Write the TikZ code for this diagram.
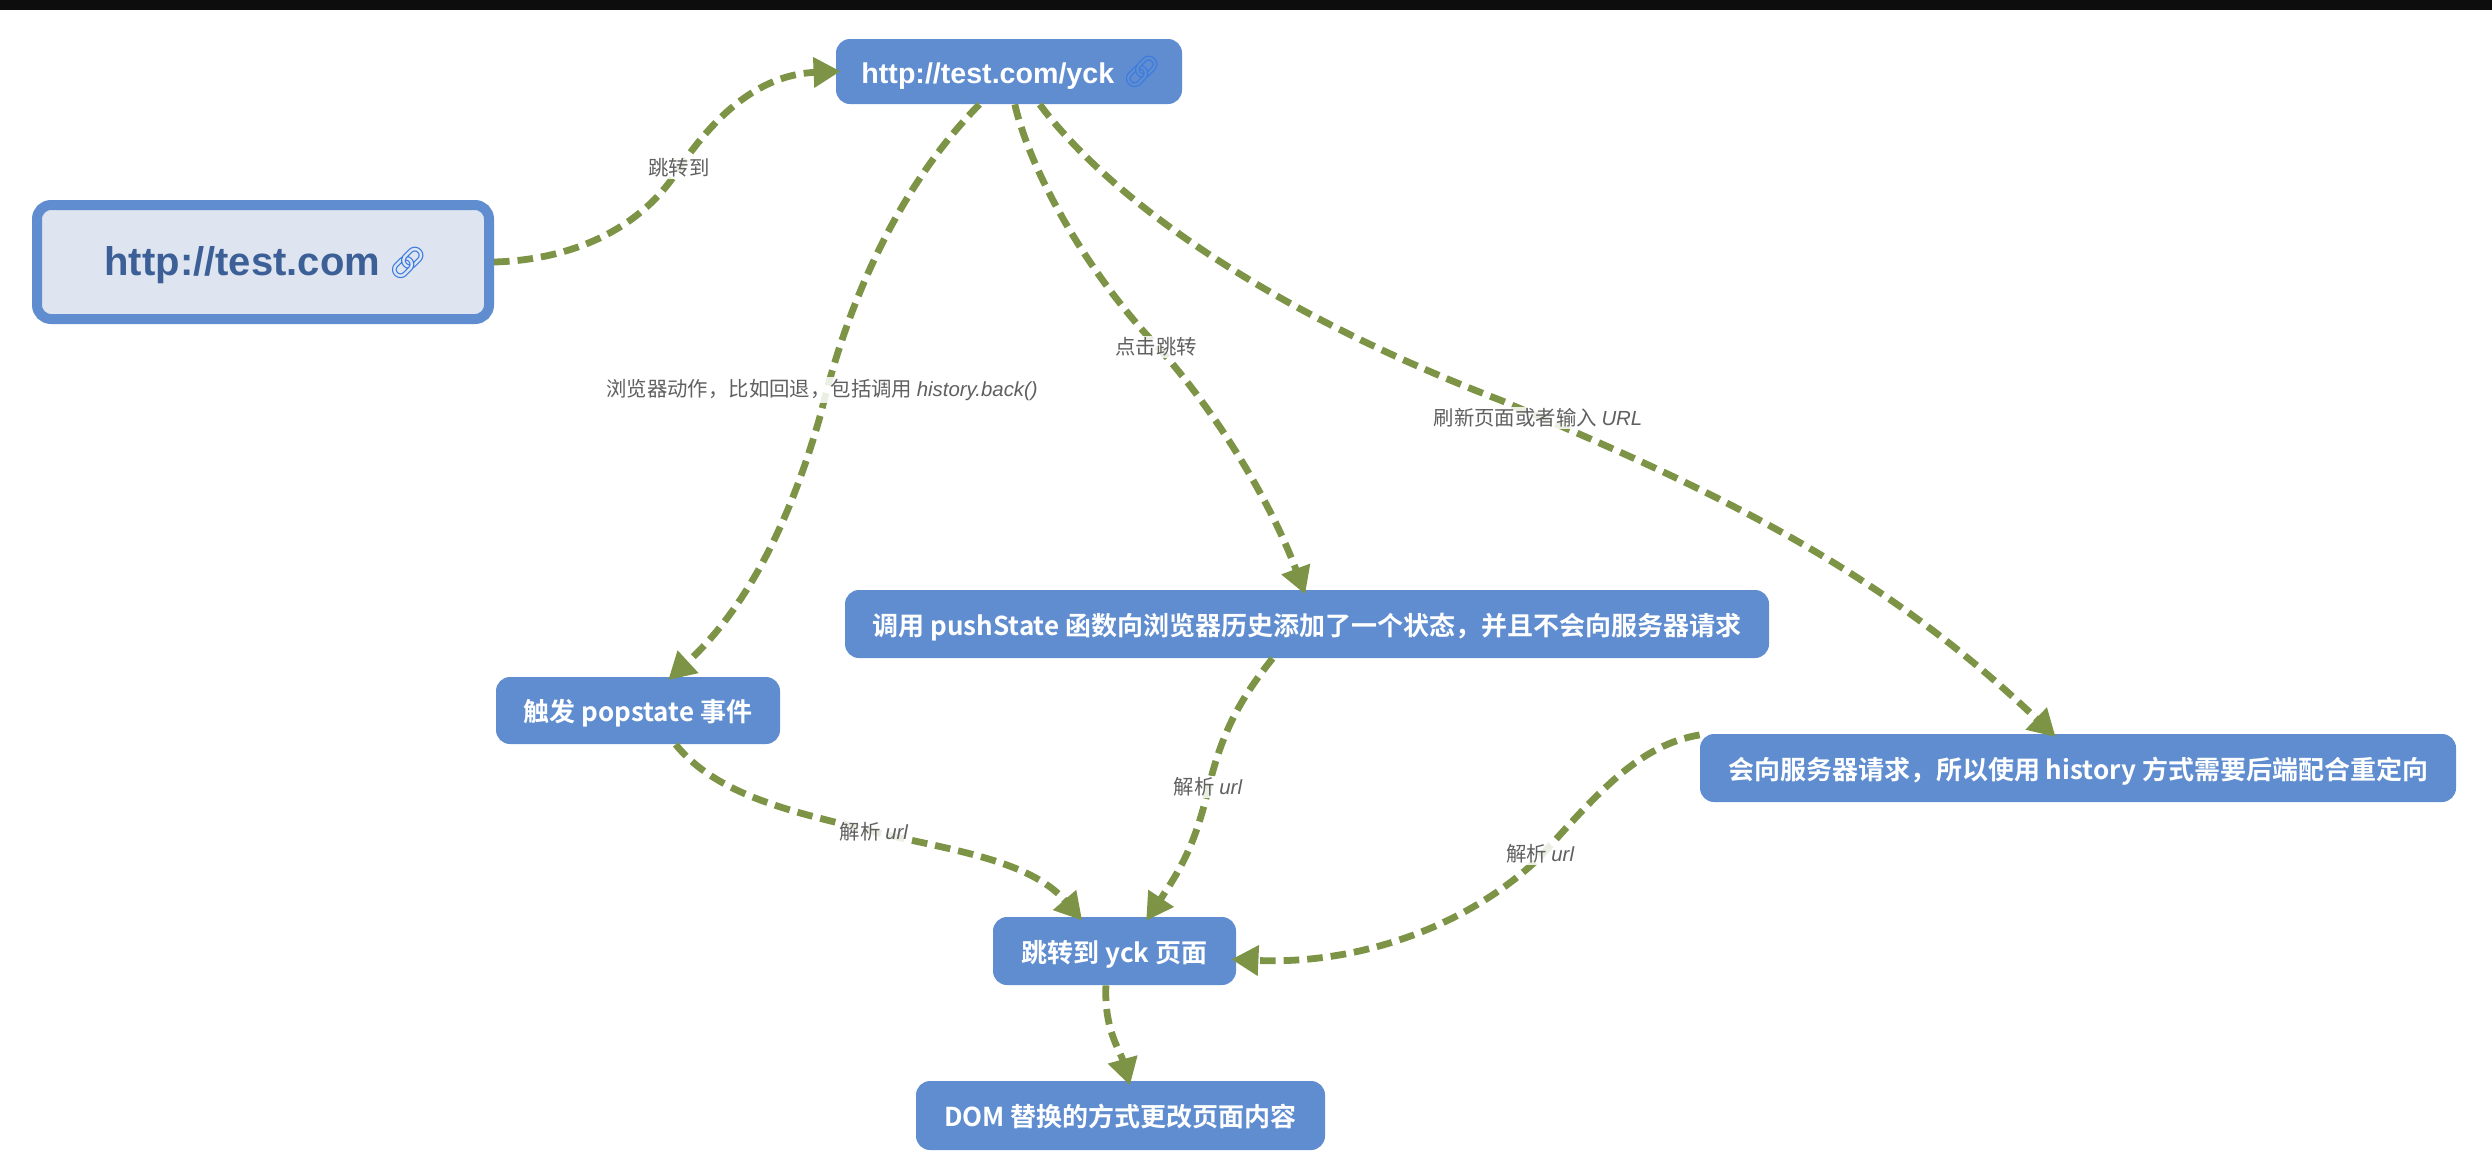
\documentclass[tikz,border=0pt]{standalone}
\usepackage{fontspec}
\setmainfont{Liberation Sans}
\newfontfamily\cjk{Noto Sans CJK SC}[BoldFont=* Bold]
\newfontfamily\emojifont{Noto Emoji}
\usetikzlibrary{arrows.meta}
\definecolor{nodeblue}{HTML}{5F8DD0}
\definecolor{rootfill}{HTML}{DEE5F0}
\definecolor{roottext}{HTML}{3B5F96}
\definecolor{edgegreen}{HTML}{7D9446}
\definecolor{labelgrey}{HTML}{606060}
\definecolor{linkblue}{HTML}{3A7BE0}
\newcommand{\linkicon}[1]{\raisebox{#1}{\fontsize{15.5}{17}\emojifont\color{linkblue}\symbol{"1F517}}}
\newcommand{\basetext}[2]{\raisebox{-#1}[0pt][0pt]{#2}}
\tikzset{
  x=0.5pt,y=-0.5pt,
  flow/.style={rectangle,rounded corners=7pt,fill=nodeblue,text=white,inner sep=0pt,font=\cjk\bfseries\fontsize{13}{15}\selectfont},
  rootnode/.style={rectangle,rounded corners=7pt,fill=rootfill,draw=nodeblue,line width=5pt,text=roottext,inner sep=0pt,minimum width=226pt,minimum height=57pt,font=\bfseries\fontsize{20}{24}\selectfont},
  conn/.style={draw=edgegreen,line width=3.4pt,dash pattern=on 7.8pt off 4pt,
    -{Triangle[length=13.5pt,width=14.5pt,fill=edgegreen]},shorten >=-2.5pt},
  elabel/.style={fill=white,fill opacity=.85,text opacity=1,text=labelgrey,inner xsep=0.5pt,inner ysep=1pt,font=\cjk\fontsize{10.2}{12}\selectfont}
}
\begin{document}
\begin{tikzpicture}
\useasboundingbox (0,0) rectangle (2492,1168);
\fill[white] (0,0) rectangle (2492,1168);
\fill[black!95] (0,0) rectangle (2492,10);
\node[rootnode] (root) at (263,262) {\basetext{6.5pt}{\hspace*{3pt}http://test.com\hspace{4pt}\linkicon{1pt}}};
\node[flow,minimum width=173pt,minimum height=32.5pt] (yck) at (1009,71.5) {\basetext{5.75pt}{\hspace*{2.5pt}\rmfamily\bfseries\fontsize{14.3}{16}\selectfont http://test.com/yck\hspace{4pt}\linkicon{0.5pt}}};
\node[flow,minimum width=142pt,minimum height=33.5pt] (pop) at (638,710.5) {\basetext{5.5pt}{触发 popstate 事件}};
\node[flow,minimum width=462pt,minimum height=34pt] (push) at (1307,624) {\basetext{5.5pt}{调用 pushState 函数向浏览器历史添加了一个状态，并且不会向服务器请求}};
\node[flow,minimum width=378pt,minimum height=34pt] (hist) at (2078,768) {\basetext{5.5pt}{会向服务器请求，所以使用 history 方式需要后端配合重定向}};
\node[flow,minimum width=121.5pt,minimum height=34pt] (jump) at (1114.5,951) {\basetext{5.5pt}{跳转到 yck 页面}};
\node[flow,minimum width=204.5pt,minimum height=34.5pt] (dom) at (1120.5,1115.5) {\basetext{5.5pt}{DOM 替换的方式更改页面内容}};

\draw[conn] (root.east) .. controls (570,260) and (640,230) .. (678,170) .. controls (705,130) and (750,75) .. (yck.west);
\draw[conn] (yck.-132.7) .. controls (900,185) and (848,300) .. (821,413) .. controls (795,505) and (755,600) .. (pop.45.4);
\draw[conn] (yck.-80) .. controls (1030,170) and (1085,270) .. (1156,345) .. controls (1215,410) and (1270,500) .. (push.96.7);
\draw[conn] (yck.-47.5) .. controls (1100,185) and (1240,300) .. (1500,400) .. controls (1700,485) and (1870,560) .. (hist.127.4);
\draw[conn] (pop.-42.2) .. controls (720,800) and (810,815) .. (875,832) .. controls (950,850) and (1030,860) .. (jump.136.2);
\draw[conn] (push.-135.8) .. controls (1235,705) and (1220,740) .. (1208,790) .. controls (1195,845) and (1180,870) .. (jump.45.4);
\draw[conn] (hist.175.4) .. controls (1640,745) and (1600,790) .. (1540,857) .. controls (1470,925) and (1360,965) .. (jump.-4.7);
\draw[conn] (jump.-104) .. controls (1104,1030) and (1120,1050) .. (dom.77.7);

\node[elabel] (l1) at (679,168) {跳转到};
\node[elabel] (l2) at (822,390) {浏览器动作，比如回退，包括调用 {\rmfamily\itshape history.back()}};
\node[elabel] (l3) at (1156,347) {点击跳转};
\node[elabel] (l4) at (1538,418) {刷新页面或者输入 {\rmfamily\itshape URL}};
\node[elabel] (l5) at (874,832) {解析 {\rmfamily\itshape url}};
\node[elabel] (l6) at (1208,787) {解析 {\rmfamily\itshape url}};
\node[elabel] (l7) at (1540,854) {解析 {\rmfamily\itshape url}};
\end{tikzpicture}
\end{document}
